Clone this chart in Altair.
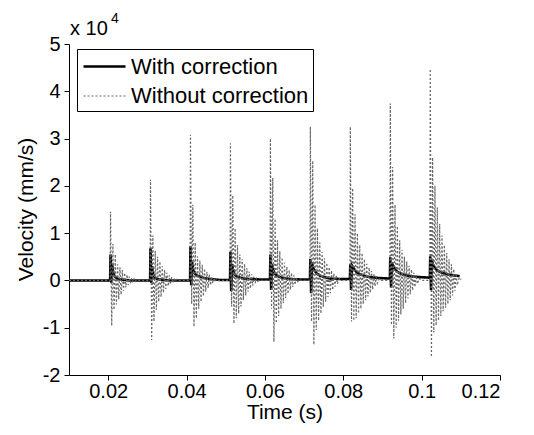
import altair as alt
import pandas as pd

FONT = "Liberation Sans"

# pulse start times (s)
starts = [0.0205, 0.0307, 0.0409, 0.0511, 0.0613, 0.0715, 0.0817, 0.0919, 0.1021]

# sample offsets after each pulse start (s) for the uncorrected (dashed) signal
d_off = [-0.0004, 0.0000, 0.0001, 0.0004, 0.0007, 0.0010, 0.0013, 0.0016, 0.0019, 0.0022,
         0.0025, 0.0028, 0.0031, 0.0034, 0.0037, 0.0040, 0.0043, 0.0046, 0.0049, 0.0052,
         0.0055, 0.0058, 0.0061, 0.0064, 0.0067, 0.0070, 0.0075, 0.0080]

# velocity (x 10^4 mm/s), without correction
dashed_1 = [0, 0, 1.45, -0.96, 0.77, -0.62, 0.55, -0.51, 0.34, -0.40, 0.28, -0.30, 0.22, -0.22,
            0.16, -0.15, 0.12, -0.10, 0.08, -0.06, 0.05, -0.04, 0.03, -0.02, 0.01, 0.0, 0.0, 0.0]
dashed_2 = [0, 0, 2.13, -1.26, 0.95, -0.87, 0.62, -0.62, 0.50, -0.45, 0.40, -0.35, 0.30, -0.26,
            0.22, -0.18, 0.16, -0.12, 0.11, -0.08, 0.07, -0.05, 0.04, -0.02, 0.02, 0.0, 0.0, 0.0]
dashed_3 = [0, 0, 3.08, -0.50, 1.60, -0.98, 0.80, -0.80, 0.51, -0.60, 0.42, -0.45, 0.33, -0.33,
            0.25, -0.24, 0.18, -0.16, 0.13, -0.10, 0.08, -0.06, 0.05, -0.03, 0.02, 0.0, 0.0, 0.0]
dashed_4 = [0, 0, 2.90, -0.55, 1.80, -0.91, 1.10, -0.80, 0.75, -0.70, 0.55, -0.55, 0.45, -0.42,
            0.35, -0.32, 0.26, -0.24, 0.19, -0.17, 0.13, -0.11, 0.08, -0.06, 0.04, -0.02, 0.0, 0.0]
dashed_5 = [0, 0, 3.00, -0.60, 2.17, -1.30, 1.30, -0.90, 0.85, -0.75, 0.62, -0.60, 0.48, -0.48,
            0.38, -0.37, 0.29, -0.28, 0.22, -0.20, 0.16, -0.14, 0.11, -0.09, 0.07, -0.04, 0.02, 0.0]
dashed_6 = [0, 0, 3.25, -0.87, 2.53, -1.36, 1.60, -1.05, 1.10, -0.85, 0.80, -0.70, 0.60, -0.56,
            0.47, -0.45, 0.37, -0.35, 0.28, -0.27, 0.21, -0.20, 0.15, -0.13, 0.10, -0.07, 0.04, 0.0]
dashed_7 = [0, 0, 3.25, -0.87, 1.95, -0.85, 1.40, -0.80, 1.00, -0.70, 0.75, -0.60, 0.58, -0.50,
            0.45, -0.42, 0.35, -0.34, 0.27, -0.26, 0.20, -0.19, 0.14, -0.12, 0.09, -0.06, 0.03, 0.0]
dashed_8 = [0, 0, 3.74, -0.94, 2.40, -1.23, 1.60, -1.00, 1.15, -0.85, 0.85, -0.72, 0.65, -0.60,
            0.50, -0.48, 0.40, -0.38, 0.31, -0.29, 0.23, -0.21, 0.16, -0.14, 0.10, -0.07, 0.04, 0.0]
dashed_9 = [0, 0, 4.47, -1.62, 2.60, -1.10, 2.00, -0.95, 1.55, -0.85, 1.20, -0.75, 0.95, -0.65,
            0.75, -0.58, 0.58, -0.50, 0.45, -0.42, 0.34, -0.32, 0.24, -0.22, 0.15, -0.10, 0.06, 0.02]

# sample offsets for the corrected (solid) signal
s_off = [-0.0004, 0.0000, 0.0001, 0.0003, 0.0005, 0.0008, 0.0012, 0.0018, 0.0026, 0.0036, 0.0050, 0.0076]

solid_1 = [0, 0, 0.55, -0.05, 0.35, 0.15, 0.08, 0.04, 0.02, 0.01, 0.0, 0.0]
solid_2 = [0, 0, 0.68, -0.05, 0.30, 0.12, 0.06, 0.03, 0.02, 0.01, 0.0, 0.0]
solid_3 = [0, 0, 0.72, -0.10, 0.40, 0.22, 0.14, 0.10, 0.08, 0.05, 0.03, 0.01]
solid_4 = [0.01, 0.01, 0.60, -0.23, 0.35, 0.20, 0.12, 0.08, 0.06, 0.04, 0.03, 0.02]
solid_5 = [0.02, 0.02, 0.55, -0.20, 0.35, 0.22, 0.15, 0.10, 0.07, 0.05, 0.03, 0.02]
solid_6 = [0.02, 0.02, 0.45, -0.27, 0.38, 0.28, 0.20, 0.14, 0.10, 0.07, 0.04, 0.03]
solid_7 = [0.03, 0.03, 0.34, -0.20, 0.32, 0.28, 0.22, 0.17, 0.13, 0.10, 0.07, 0.05]
solid_8 = [0.04, 0.04, 0.49, -0.15, 0.38, 0.30, 0.24, 0.19, 0.15, 0.12, 0.09, 0.07]
solid_9 = [0.06, 0.06, 0.51, -0.20, 0.42, 0.34, 0.28, 0.22, 0.18, 0.15, 0.12, 0.09]

series_names = ["With correction", "Without correction"]
x_ticks = [0.02, 0.04, 0.06, 0.08, 0.10, 0.12]
y_ticks = [-2, -1, 0, 1, 2, 3, 4, 5]

dashed_sets = [dashed_1, dashed_2, dashed_3, dashed_4, dashed_5, dashed_6, dashed_7, dashed_8, dashed_9]
solid_sets = [solid_1, solid_2, solid_3, solid_4, solid_5, solid_6, solid_7, solid_8, solid_9]

rows_s = [{"t": 0.010, "v": 0.0, "s": series_names[0]}]
for st, vals in zip(starts, solid_sets):
    for o, v in zip(s_off, vals):
        rows_s.append({"t": round(st + o, 6), "v": v, "s": series_names[0]})
rows_d = [{"t": 0.010, "v": 0.0, "s": series_names[1]}]
for st, vals in zip(starts, dashed_sets):
    for o, v in zip(d_off, vals):
        rows_d.append({"t": round(st + o, 6), "v": v, "s": series_names[1]})

df_s = pd.DataFrame(rows_s)
df_d = pd.DataFrame(rows_d)

xenc = alt.X("t:Q", scale=alt.Scale(domain=[0.01, 0.12], nice=False),
             axis=alt.Axis(values=x_ticks, labelExpr="format(datum.value, '~g')", title="Time (s)",
                           grid=False, tickSize=5, labelPadding=1, titlePadding=0))
yenc = alt.Y("v:Q", scale=alt.Scale(domain=[-2, 5], nice=False),
             axis=alt.Axis(values=y_ticks, labelExpr="'' + datum.value", title="Velocity (mm/s)",
                           grid=False, tickSize=5, labelPadding=4, titleX=-33, titleY=165))
color = alt.Color("s:N", scale=alt.Scale(domain=series_names, range=["#000000", "#666666"]),
                  legend=alt.Legend(title=None, orient="none", legendX=8, legendY=5,
                                    symbolType="M-1.75,0H1.75", symbolSize=576, strokeColor="#000000",
                                    fillColor="#ffffff", padding=4, labelFontSize=22, labelFont=FONT,
                                    labelColor="#000000", labelOffset=13, rowPadding=5, cornerRadius=0,
                                    symbolOffset=10, labelLimit=400))
dash = alt.StrokeDash("s:N", scale=alt.Scale(domain=series_names, range=[[1, 0], [2, 2]]), legend=None)
width = alt.StrokeWidth("s:N", scale=alt.Scale(domain=series_names, range=[2.6, 1.2]), legend=None)

solid = alt.Chart(df_s).mark_line(strokeJoin="miter").encode(
    x=xenc, y=yenc, color=color, strokeDash=dash, strokeWidth=width, order="t:Q")
dashed = alt.Chart(df_d).mark_line().encode(
    x=xenc, y=yenc, color=color, strokeDash=dash, strokeWidth=width, order="t:Q")

anno = pd.DataFrame({"a": [0]})
exp_base = alt.Chart(anno).mark_text(align="left", baseline="alphabetic", font=FONT, fontSize=20,
                                     color="#000000").encode(
    x=alt.value(1), y=alt.value(-9), text=alt.value("x 10"))
exp_sup = alt.Chart(anno).mark_text(align="left", baseline="alphabetic", font=FONT, fontSize=14,
                                    color="#000000").encode(
    x=alt.value(42), y=alt.value(-21), text=alt.value("4"))

chart = alt.layer(solid, dashed, exp_base, exp_sup).properties(
    width=431, height=331,
    autosize=alt.AutoSizeParams(type="none"),
    padding={"left": 69, "top": 44, "right": 34, "bottom": 60},
    background="#ffffff",
).configure_view(strokeWidth=0).configure_axis(
    labelFont=FONT, titleFont=FONT, labelFontSize=20, titleFontSize=21,
    labelColor="#000000", titleColor="#000000", titleFontWeight="normal",
    domainColor="#000000", tickColor="#000000", domainWidth=1, tickWidth=1,
)

chart.save("out.html", embed_options={"renderer": "svg", "actions": False})
